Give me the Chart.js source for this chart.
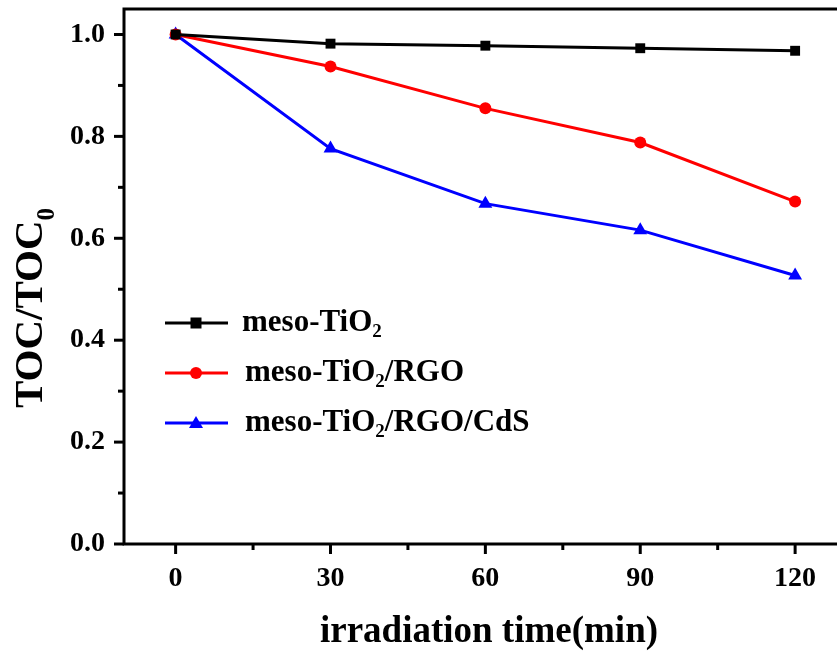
<!DOCTYPE html>
<html lang="en">
<head>
  <meta charset="UTF-8">
  <title>TOC removal</title>
  <script src="https://cdn.jsdelivr.net/npm/chart.js"></script>
  <style>
    html, body { margin: 0; padding: 0; background: #fff; }
    canvas { display: block; }
  </style>
</head>
<body>
  <canvas id="tocChart" style="width: 837px; height: 657px;"></canvas>
  <script>
    // data
    var times = [0, 30, 60, 90, 120];
    var tio2 = [1.0, 0.982, 0.978, 0.973, 0.968];
    var tio2Rgo = [1.0, 0.937, 0.855, 0.788, 0.672];
    var tio2RgoCds = [1.0, 0.776, 0.668, 0.616, 0.527];
    var xTicks = [0, 30, 60, 90, 120];
    var yTicks = [0, 0.2, 0.4, 0.6, 0.8, 1.0];

    var serif = '"Liberation Serif", "Times New Roman", serif';

    function pts(ys) {
      return times.map(function (t, i) { return { x: t, y: ys[i] }; });
    }

    // legend entries: name split around the subscript
    var legendItems = [
      { pre: 'meso-TiO', sub: '2', post: '', color: '#000000', style: 'rect' },
      { pre: 'meso-TiO', sub: '2', post: '/RGO', color: '#ff0000', style: 'circle' },
      { pre: 'meso-TiO', sub: '2', post: '/RGO/CdS', color: '#0000ff', style: 'triangle' }
    ];

    function drawSubText(ctx, x, y, pre, sub, post, size) {
      ctx.font = 'bold ' + size + 'px ' + serif;
      ctx.fillText(pre, x, y);
      x += ctx.measureText(pre).width;
      ctx.font = 'bold ' + Math.round(size * 0.62) + 'px ' + serif;
      ctx.fillText(sub, x, y + size * 0.3);
      x += ctx.measureText(sub).width;
      ctx.font = 'bold ' + size + 'px ' + serif;
      ctx.fillText(post, x, y);
    }

    // the original plot frame runs off the right edge of the picture
    var stretchRight = {
      id: 'stretchRight',
      afterLayout: function (chart) {
        var xs = chart.scales.x;
        var right = chart.width + 2;
        chart.chartArea.right = right;
        chart.chartArea.width = right - chart.chartArea.left;
        xs.right = right;
        xs.width = right - xs.left;
        xs.configure();
      }
    };

    // frame, ticks, axis titles, legend
    var decor = {
      id: 'decor',
      afterDraw: function (chart) {
        var ctx = chart.ctx;
        var a = chart.chartArea;
        var xs = chart.scales.x, ys = chart.scales.y;
        ctx.save();
        ctx.strokeStyle = '#000';
        ctx.fillStyle = '#000';
        ctx.lineWidth = 3;
        ctx.strokeRect(a.left, a.top, a.right - a.left, a.bottom - a.top);

        // y ticks (major 0.2, minor 0.1)
        for (var v = 0; v <= 1.0001; v += 0.1) {
          var py = ys.getPixelForValue(v);
          var major = Math.round(v * 10) % 2 === 0;
          ctx.beginPath();
          ctx.moveTo(a.left, py);
          ctx.lineTo(a.left - (major ? 10 : 6), py);
          ctx.stroke();
        }
        // x ticks (major 30, minor 15)
        for (var t = 0; t <= 120; t += 15) {
          var px = xs.getPixelForValue(t);
          var maj = t % 30 === 0;
          ctx.beginPath();
          ctx.moveTo(px, a.bottom);
          ctx.lineTo(px, a.bottom + (maj ? 10 : 6));
          ctx.stroke();
        }

        // x title
        ctx.font = 'bold 37px ' + serif;
        ctx.textAlign = 'center';
        ctx.textBaseline = 'alphabetic';
        ctx.fillText('irradiation time(min)', 489, 642);

        // y title, rotated
        ctx.save();
        ctx.translate(42, 408);
        ctx.rotate(-Math.PI / 2);
        ctx.textAlign = 'left';
        drawSubText(ctx, 0, 0, 'TOC/TOC', '0', '', 41);
        ctx.restore();

        // legend
        ctx.textAlign = 'left';
        ctx.textBaseline = 'middle';
        legendItems.forEach(function (it, i) {
          var cy = 323 + i * 50;
          ctx.strokeStyle = it.color;
          ctx.fillStyle = it.color;
          ctx.lineWidth = 3;
          ctx.beginPath();
          ctx.moveTo(165, cy);
          ctx.lineTo(228, cy);
          ctx.stroke();
          var mx = 196;
          ctx.beginPath();
          if (it.style === 'rect') {
            ctx.rect(mx - 5.5, cy - 5.5, 11, 11);
          } else if (it.style === 'circle') {
            ctx.arc(mx, cy, 6, 0, Math.PI * 2);
          } else {
            ctx.moveTo(mx, cy - 7);
            ctx.lineTo(mx + 7, cy + 5);
            ctx.lineTo(mx - 7, cy + 5);
            ctx.closePath();
          }
          ctx.fill();
          ctx.fillStyle = '#000';
          drawSubText(ctx, i === 0 ? 242 : 245, cy, it.pre, it.sub, it.post, 31);
        });
        ctx.restore();
      }
    };

    var config = {
      type: 'line',
      data: {
        datasets: [
          {
            label: 'meso-TiO2',
            data: pts(tio2),
            borderColor: '#000000',
            backgroundColor: '#000000',
            borderWidth: 3,
            pointStyle: 'rect',
            pointRadius: 7,
            pointBorderWidth: 0
          },
          {
            label: 'meso-TiO2/RGO',
            data: pts(tio2Rgo),
            borderColor: '#ff0000',
            backgroundColor: '#ff0000',
            borderWidth: 3,
            pointStyle: 'circle',
            pointRadius: 6,
            pointBorderWidth: 0
          },
          {
            label: 'meso-TiO2/RGO/CdS',
            data: pts(tio2RgoCds),
            borderColor: '#0000ff',
            backgroundColor: '#0000ff',
            borderWidth: 3,
            pointStyle: 'triangle',
            pointRadius: 8,
            pointBorderWidth: 0
          }
        ]
      },
      options: {
        responsive: false,
        animation: false,
        layout: { padding: { top: 9, right: 0, left: 0, bottom: 0 } },
        plugins: {
          legend: { display: false },
          tooltip: { enabled: false }
        },
        scales: {
          x: {
            type: 'linear',
            min: -10,
            max: 128.5,
            grid: { display: false },
            border: { display: false },
            afterBuildTicks: function (scale) {
              scale.ticks = xTicks.map(function (v) { return { value: v }; });
            },
            afterFit: function (scale) {
              scale.height = 113;
              scale.paddingLeft = 0;
              scale.paddingRight = 0;
            },
            ticks: {
              padding: 10,
              color: '#000',
              font: { family: serif, size: 28, weight: 'bold' },
              maxRotation: 0
            }
          },
          y: {
            min: 0,
            max: 1.05,
            grid: { display: false },
            border: { display: false },
            afterBuildTicks: function (scale) {
              scale.ticks = yTicks.map(function (v) { return { value: v }; });
            },
            afterFit: function (scale) {
              scale.width = 124;
              scale.paddingTop = 0;
              scale.paddingBottom = 0;
            },
            ticks: {
              padding: 11,
              color: '#000',
              font: { family: serif, size: 28, weight: 'bold' },
              callback: function (v) { return v.toFixed(1); }
            }
          }
        }
      },
      plugins: [stretchRight, decor]
    };

    var canvas = document.getElementById('tocChart');
    canvas.width = 837;
    canvas.height = 657;
    new Chart(canvas, config);
  </script>
</body>
</html>
